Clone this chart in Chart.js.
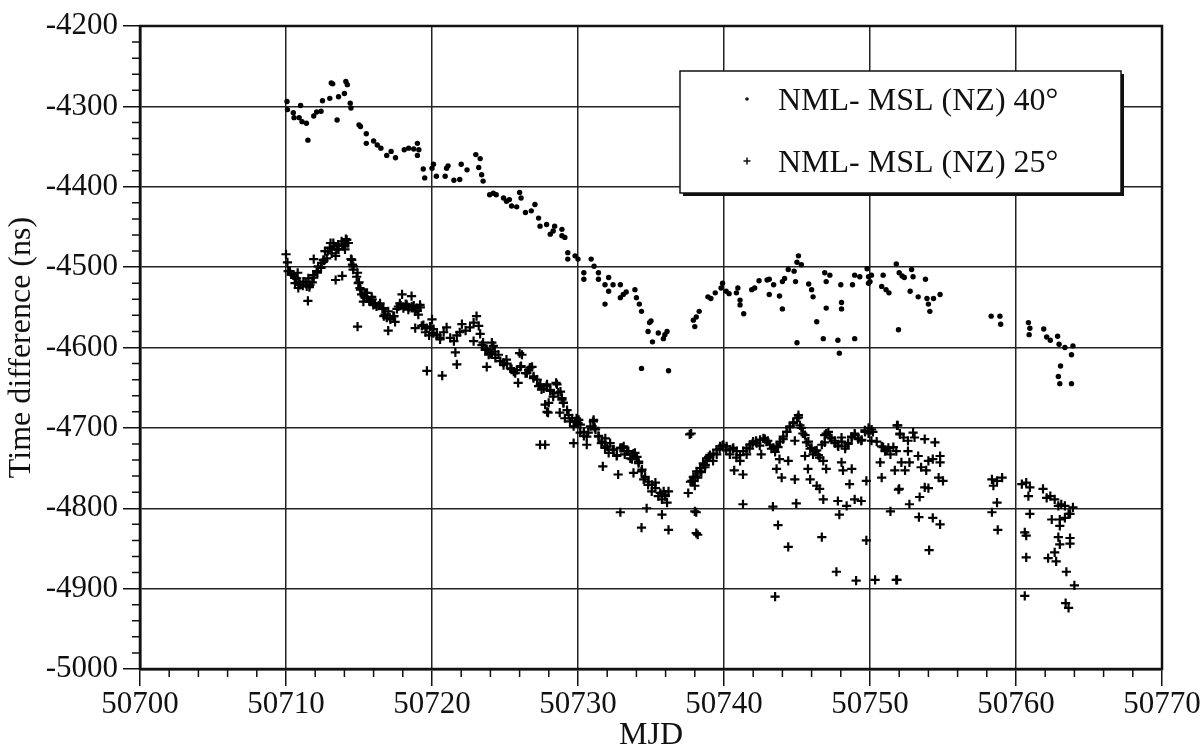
<!DOCTYPE html>
<html>
<head>
<meta charset="utf-8">
<script src="https://cdn.jsdelivr.net/npm/chart.js@4.4.1/dist/chart.umd.min.js"></script>
<style>
  html, body { margin: 0; padding: 0; background: #fff; }
</style>
</head>
<body>
<canvas id="chart" width="1204" height="752"></canvas>
<script>
// axis ranges
const xRange = [50700, 50770];
const yRange = [-5000, -4200];
const seriesLabels = ['NML- MSL (NZ) 40°', 'NML- MSL (NZ) 25°'];

// NML - MSL (NZ), 40 degree elevation mask (dots)
const mjd40 = [50710.07,50710.1,50710.5,50710.55,50711.0,50710.9,50711.1,50711.4,50711.5,50711.9,50712.1,50712.4,50712.5,50713.0,50713.1,50713.2,50713.5,50713.6,50714.0,50714.1,50714.2,50714.4,50714.45,50715.0,50715.1,50715.5,50715.5,50716.0,50716.25,50716.5,50716.9,50717.2,50717.5,50718.1,50718.4,50718.75,50719.0,50719.1,50719.0,50719.4,50719.5,50720.0,50720.1,50720.3,50720.9,50721.0,50721.1,50721.5,50721.9,50722.0,50722.4,50723.0,50723.3,50723.2,50723.4,50723.5,50723.95,50724.2,50724.4,50724.9,50725.1,50725.3,50725.45,50725.8,50726.0,50726.1,50726.4,50726.8,50727.05,50727.3,50727.4,50727.85,50728.1,50728.3,50728.4,50728.9,50728.9,50729.1,50729.3,50729.3,50729.8,50730.0,50730.4,50730.4,50730.9,50731.1,50731.4,50731.4,50731.85,50732.1,50732.4,50731.85,50732.1,50732.9,50732.9,50733.1,50733.3,50733.9,50734.0,50734.2,50734.35,50734.35,50734.9,50735.0,50734.8,50735.1,50735.5,50735.95,50736.1,50735.85,50736.2,50737.9,50738.0,50738.1,50738.3,50738.9,50739.1,50739.4,50739.8,50739.9,50740.15,50740.35,50740.85,50740.95,50741.1,50741.1,50741.35,50741.9,50742.1,50742.4,50742.95,50743.1,50743.1,50743.4,50743.8,50744.0,50744.15,50744.0,50744.4,50744.8,50744.9,50745.0,50745.1,50745.3,50745.0,50745.8,50746.0,50746.1,50746.35,50746.8,50746.9,50747.0,50747.25,50747.0,50747.8,50747.9,50748.0,50748.05,50748.05,50748.8,50748.95,50749.3,50748.95,50749.8,50749.9,50750.0,50749.9,50750.1,50750.8,50750.9,50751.1,50751.3,50751.8,50752.0,50752.2,50751.95,50752.35,50752.85,50752.95,50753.8,50752.75,50753.3,50753.9,50754.0,50754.1,50754.35,50754.8,50758.3,50758.9,50758.95,50760.85,50760.95,50760.9,50761.9,50762.1,50762.35,50762.85,50762.95,50763.35,50763.9,50763.8,50763.05,50762.9,50763.0,50763.8];
const diff40 = [-4294,-4304,-4308,-4314,-4299,-4314,-4319,-4321,-4342,-4312,-4307,-4306,-4293,-4290,-4271,-4272,-4317,-4288,-4284,-4269,-4273,-4296,-4302,-4323,-4325,-4334,-4346,-4343,-4348,-4352,-4361,-4356,-4364,-4354,-4352,-4353,-4346,-4354,-4361,-4378,-4389,-4377,-4372,-4387,-4387,-4377,-4374,-4392,-4391,-4372,-4379,-4360,-4365,-4376,-4385,-4393,-4410,-4408,-4410,-4414,-4418,-4416,-4424,-4425,-4407,-4414,-4432,-4430,-4422,-4439,-4449,-4447,-4459,-4455,-4449,-4453,-4461,-4463,-4482,-4490,-4486,-4490,-4507,-4515,-4490,-4499,-4507,-4515,-4522,-4513,-4522,-4546,-4530,-4522,-4538,-4534,-4531,-4528,-4538,-4546,-4555,-4626,-4569,-4567,-4580,-4593,-4582,-4584,-4580,-4589,-4629,-4566,-4574,-4562,-4555,-4537,-4539,-4532,-4526,-4520,-4530,-4533,-4532,-4526,-4541,-4547,-4558,-4528,-4526,-4517,-4516,-4515,-4534,-4522,-4536,-4518,-4514,-4552,-4503,-4505,-4518,-4494,-4486,-4497,-4594,-4521,-4528,-4537,-4568,-4589,-4507,-4518,-4510,-4551,-4591,-4607,-4522,-4544,-4552,-4522,-4510,-4512,-4589,-4502,-4512,-4518,-4520,-4510,-4524,-4510,-4528,-4532,-4496,-4507,-4511,-4578,-4513,-4503,-4512,-4515,-4530,-4537,-4539,-4546,-4555,-4539,-4534,-4561,-4561,-4571,-4569,-4576,-4584,-4577,-4587,-4591,-4586,-4596,-4600,-4598,-4609,-4623,-4636,-4645,-4645];

// NML - MSL (NZ), 25 degree elevation mask (crosses)
const mjd25 = [50710.0,50710.1,50710.15,50710.35,50710.6,50710.8,50710.9,50711.15,50711.35,50711.6,50711.8,50711.9,50712.15,50711.9,50712.4,50712.6,50712.85,50713.05,50713.3,50713.4,50713.6,50713.85,50714.1,50714.2,50711.5,50713.4,50713.85,50714.45,50714.55,50714.6,50714.9,50715.0,50715.1,50715.35,50715.55,50715.7,50715.9,50716.1,50716.35,50716.6,50716.7,50716.9,50717.15,50717.4,50717.6,50717.85,50717.95,50718.2,50718.4,50718.6,50718.75,50719.0,50719.2,50714.9,50717.0,50718.85,50719.3,50719.55,50719.8,50720.0,50720.1,50720.35,50720.55,50720.8,50721.0,50721.25,50721.5,50721.7,50721.9,50722.05,50722.3,50722.6,50722.85,50723.05,50723.2,50723.3,50723.5,50723.75,50724.0,50724.2,50721.6,50721.7,50722.85,50719.65,50720.7,50723.75,
  50710.27,50710.5,50710.73,50710.62,50710.96,50710.84,50711.19,50711.42,50711.64,50711.53,50711.87,50712.1,50712.2,50712.44,50712.56,50712.79,50712.67,50713.0,50713.24,50713.13,50713.47,50713.58,50713.81,50713.93,50714.16,50714.27,50714.04,50714.5,50714.61,50714.84,50714.95,50715.07,50715.18,50715.41,50715.3,50715.53,50715.75,50715.87,50715.98,50716.2,50716.44,50716.67,50716.78,50717.0,50717.12,50717.35,50717.47,50717.7,50717.8,50718.04,50718.27,50718.38,50718.61,50718.84,50718.95,50719.06,50719.18,50719.41,50719.63,50719.86,50720.09,50720.32,50720.55,
  50724.1,50724.3,50724.55,50724.9,50725.1,50725.45,50725.7,50726.0,50726.1,50726.5,50726.7,50726.95,50725.9,50727.3,50727.5,50727.85,50728.1,50728.3,50728.5,50728.65,50728.9,50729.0,50727.75,50727.95,50728.75,50729.1,50729.45,50729.7,50729.9,50730.0,50730.15,50730.4,50730.6,50730.7,50731.05,50731.15,50731.4,50731.6,50731.85,50731.7,50732.1,50732.4,50732.65,50733.0,50733.2,50733.45,50733.7,50733.9,50734.15,50732.75,50733.8,50734.35,50734.5,50734.8,50735.05,50735.3,50735.5,50735.75,50735.95,50736.2,50736.1,50727.4,50727.75,50729.7,50732.9,50734.7,50735.75,50734.35,50736.2,50737.65,50737.8,50737.55,50738.0,50738.1,
  50723.42,50723.65,50723.88,50724.1,50724.34,50724.68,50724.9,50725.14,50725.37,50725.6,50725.82,50726.05,50726.16,50726.4,50726.62,50726.85,50726.96,50727.2,50727.42,50727.65,50727.88,50728.1,50728.33,50728.56,50728.8,50728.9,50729.0,50729.25,50729.36,50729.6,50729.8,50730.05,50730.16,50730.4,50730.6,50730.85,50731.07,50731.2,50731.42,50731.65,50731.87,50732.0,50732.2,50732.45,50732.67,50732.9,50733.13,50733.35,50733.58,50733.8,50734.04,50734.15,50734.38,50734.6,50734.84,50735.07,50735.3,50735.64,50735.87,50735.98,50727.88,50727.99,50737.7,50738.04,50738.38,50738.72,50738.95,
  50737.75,50737.9,50738.0,50738.2,50738.45,50738.7,50738.8,50739.0,50739.25,50739.5,50739.7,50739.9,50740.15,50740.4,50740.6,50740.85,50741.1,50740.7,50741.3,50741.55,50741.75,50741.95,50742.2,50742.45,50742.55,50742.8,50743.0,50743.25,50743.5,50743.7,50743.8,50743.6,50743.95,50744.05,50744.3,50744.5,50744.75,50745.1,50745.2,50744.85,50744.4,50744.85,50745.4,50745.65,50745.9,50746.1,50746.35,50746.55,50745.55,50745.75,50745.9,50746.35,50746.55,50746.8,50746.8,50747.0,50746.9,50747.0,50747.25,50747.6,50747.8,50748.05,50748.3,50748.5,50748.75,50748.95,50749.2,50749.4,50749.65,50749.9,50750.1,50750.2,50748.05,50748.15,50748.75,50748.6,50747.8,50748.4,50748.95,50749.4,50749.75,50747.9,50738.1,50738.2,50741.3,50743.35,50743.7,50744.4,50744.95,50746.7,50747.7,50749.05,50749.75,50750.35,50751.85,50743.5,50750.7,50750.8,50750.9,50751.15,50751.4,50751.6,50751.85,50752.05,50751.7,50752.0,50751.4,
  50737.9,50738.13,50738.36,50738.58,50738.81,50739.04,50739.27,50739.5,50739.73,50739.95,50740.18,50740.41,50740.64,50740.87,50741.1,50741.32,50741.55,50741.78,50742.0,50742.24,50742.47,50742.7,50742.92,50743.15,50743.38,50743.6,50743.84,50744.06,50744.3,50744.52,50744.75,50745.0,50745.1,50745.3,50745.55,50745.78,50746.0,50746.23,50746.46,50746.7,50746.9,50747.15,50747.37,50747.6,50747.83,50748.06,50748.3,50748.5,50748.74,50748.97,50749.2,50749.43,50749.66,50749.9,50750.11,50750.46,50750.8,50751.03,50751.26,
  50751.9,50752.05,50752.3,50752.6,50752.95,50753.05,50753.75,50754.45,50751.8,50752.15,50752.7,50752.4,50752.6,50753.3,50753.5,50753.85,50754.0,50754.3,50754.8,50754.8,50754.7,50755.0,50751.95,50752.7,50753.4,50753.75,50754.0,50753.35,50754.3,50754.8,50754.05,50751.8,50758.35,50758.45,50758.7,50759.05,50758.7,50758.35,50758.75,50760.4,50760.7,50760.95,50760.85,50760.95,50760.6,50760.7,50760.7,50760.6,50761.85,50762.1,50762.35,50762.65,50762.9,50763.1,50763.35,50763.7,50763.9,50762.45,50763.0,50763.35,50763.6,50763.0,50762.9,50763.7,50763.7,50763.0,50762.65,50762.2,50762.75,50763.45,50764.0,50763.4,50763.6];
const diff25 = [-4484,-4494,-4505,-4509,-4513,-4507,-4519,-4523,-4519,-4525,-4519,-4513,-4507,-4490,-4501,-4492,-4480,-4470,-4474,-4486,-4478,-4472,-4465,-4470,-4542,-4516,-4511,-4490,-4497,-4503,-4507,-4519,-4528,-4536,-4532,-4542,-4540,-4546,-4548,-4552,-4561,-4563,-4565,-4561,-4552,-4548,-4534,-4546,-4550,-4536,-4548,-4554,-4550,-4574,-4579,-4576,-4573,-4581,-4585,-4565,-4577,-4585,-4590,-4581,-4575,-4588,-4592,-4585,-4581,-4571,-4579,-4575,-4569,-4561,-4573,-4583,-4594,-4602,-4608,-4598,-4606,-4621,-4592,-4629,-4635,-4624,
  -4505,-4510,-4514,-4520,-4522,-4526,-4518,-4524,-4522,-4514,-4510,-4505,-4499,-4495,-4491,-4489,-4480,-4476,-4470,-4483,-4478,-4472,-4468,-4474,-4466,-4470,-4478,-4491,-4499,-4512,-4520,-4526,-4534,-4532,-4543,-4539,-4543,-4537,-4547,-4549,-4545,-4551,-4559,-4555,-4563,-4561,-4568,-4549,-4545,-4551,-4547,-4553,-4549,-4555,-4551,-4559,-4547,-4572,-4576,-4574,-4582,-4584,-4588,
  -4594,-4605,-4609,-4619,-4615,-4627,-4632,-4607,-4623,-4632,-4625,-4638,-4644,-4648,-4652,-4648,-4654,-4661,-4644,-4656,-4665,-4669,-4671,-4681,-4681,-4688,-4692,-4698,-4688,-4694,-4706,-4710,-4721,-4706,-4692,-4700,-4710,-4719,-4725,-4748,-4731,-4727,-4735,-4725,-4733,-4729,-4739,-4731,-4744,-4758,-4756,-4754,-4764,-4771,-4779,-4768,-4785,-4789,-4783,-4779,-4793,-4721,-4721,-4719,-4805,-4800,-4808,-4824,-4827,-4708,-4766,-4781,-4804,-4831,
  -4597,-4603,-4609,-4607,-4613,-4617,-4622,-4620,-4626,-4630,-4628,-4624,-4609,-4632,-4628,-4624,-4636,-4640,-4646,-4651,-4646,-4653,-4657,-4646,-4655,-4663,-4669,-4678,-4684,-4688,-4692,-4690,-4696,-4705,-4711,-4698,-4690,-4702,-4711,-4717,-4713,-4723,-4719,-4727,-4734,-4725,-4723,-4729,-4738,-4732,-4736,-4742,-4752,-4761,-4767,-4771,-4775,-4781,-4779,-4785,-4680,-4669,-4767,-4761,-4754,-4746,-4736,
  -4707,-4766,-4772,-4762,-4755,-4749,-4741,-4737,-4741,-4733,-4726,-4722,-4728,-4733,-4726,-4737,-4741,-4753,-4758,-4733,-4726,-4720,-4716,-4722,-4733,-4714,-4716,-4726,-4730,-4724,-4739,-4751,-4762,-4714,-4705,-4699,-4693,-4687,-4697,-4716,-4741,-4764,-4707,-4718,-4726,-4733,-4728,-4737,-4735,-4751,-4764,-4772,-4776,-4789,-4741,-4751,-4718,-4707,-4712,-4716,-4722,-4712,-4726,-4720,-4712,-4707,-4714,-4716,-4703,-4707,-4716,-4705,-4743,-4753,-4751,-4770,-4791,-4797,-4789,-4791,-4766,-4808,-4805,-4833,-4795,-4798,-4821,-4848,-4794,-4836,-4879,-4890,-4840,-4889,-4889,-4910,-4743,-4762,-4724,-4728,-4733,-4724,-4697,-4707,-4753,-4776,-4804,
  -4761,-4754,-4750,-4744,-4738,-4734,-4732,-4727,-4723,-4721,-4723,-4727,-4725,-4729,-4734,-4729,-4725,-4721,-4717,-4719,-4715,-4713,-4717,-4721,-4725,-4723,-4717,-4711,-4705,-4698,-4694,-4688,-4684,-4700,-4709,-4717,-4725,-4729,-4734,-4721,-4709,-4705,-4713,-4719,-4723,-4717,-4723,-4719,-4711,-4709,-4713,-4715,-4705,-4700,-4702,-4717,-4723,-4729,-4725,
  -4697,-4708,-4712,-4716,-4706,-4712,-4714,-4718,-4729,-4743,-4743,-4753,-4729,-4735,-4749,-4753,-4741,-4739,-4735,-4743,-4762,-4766,-4777,-4795,-4786,-4774,-4775,-4811,-4812,-4820,-4852,-4889,-4764,-4772,-4766,-4762,-4793,-4805,-4827,-4770,-4768,-4774,-4785,-4807,-4830,-4834,-4861,-4909,-4776,-4787,-4785,-4789,-4797,-4795,-4797,-4807,-4799,-4814,-4814,-4812,-4807,-4822,-4836,-4837,-4844,-4845,-4855,-4862,-4866,-4879,-4896,-4918,-4924];

const toPoints = (xs, ys) => xs.map((v, i) => ({ x: v, y: ys[i] }));
const serif = '"Liberation Serif", "Times New Roman", serif';

// minor ticks, frame and boxed legend
const extras = {
  id: 'extras',
  afterDraw(chart) {
    const { ctx, chartArea: a, scales: { x, y } } = chart;
    ctx.save();
    ctx.strokeStyle = '#111';
    ctx.lineWidth = 1.5;
    ctx.beginPath();
    for (let v = xRange[0]; v <= xRange[1]; v += 2) {
      if (v % 10 === 0) continue;
      const px = x.getPixelForValue(v);
      ctx.moveTo(px, a.bottom); ctx.lineTo(px, a.bottom + 8);
    }
    for (let v = yRange[0]; v <= yRange[1]; v += 20) {
      if (v % 100 === 0) continue;
      const py = y.getPixelForValue(v);
      ctx.moveTo(a.left - 8, py); ctx.lineTo(a.left, py);
    }
    ctx.stroke();
    ctx.lineWidth = 2.5;
    ctx.strokeRect(a.left, a.top, a.right - a.left, a.bottom - a.top);

    // legend box with drop shadow
    const bx = a.left + 540, by = a.top + 45, bw = 441, bh = 122;
    ctx.fillStyle = '#111';
    ctx.fillRect(bx + 3, by + 3, bw, bh);
    ctx.fillStyle = '#fff';
    ctx.fillRect(bx, by, bw, bh);
    ctx.lineWidth = 1.5;
    ctx.strokeRect(bx, by, bw, bh);

    ctx.fillStyle = '#111';
    ctx.font = '32px ' + serif;
    ctx.textBaseline = 'alphabetic';
    ctx.textAlign = 'left';
    ctx.beginPath();
    ctx.arc(bx + 67, by + 28, 1.8, 0, Math.PI * 2);
    ctx.fill();
    ctx.fillText(seriesLabels[0], bx + 98, by + 39);
    ctx.beginPath();
    ctx.lineWidth = 1.5;
    ctx.moveTo(bx + 63.5, by + 90); ctx.lineTo(bx + 70.5, by + 90);
    ctx.moveTo(bx + 67, by + 86.5); ctx.lineTo(bx + 67, by + 93.5);
    ctx.stroke();
    ctx.fillText(seriesLabels[1], bx + 98, by + 101);
    ctx.restore();
  }
};

new Chart(document.getElementById('chart'), {
  type: 'scatter',
  data: {
    datasets: [
      { label: seriesLabels[0], data: toPoints(mjd40, diff40), pointStyle: 'circle', pointRadius: 2.7,
        pointBorderWidth: 0, backgroundColor: '#000', borderColor: '#000' },
      { label: seriesLabels[1], data: toPoints(mjd25, diff25), pointStyle: 'cross', pointRadius: 4.6,
        pointBorderWidth: 2.2, backgroundColor: '#000', borderColor: '#000' }
    ]
  },
  options: {
    responsive: false, animation: false, devicePixelRatio: 1,
    layout: { padding: { top: 26, right: 42, left: 0, bottom: 0 } },
    plugins: { legend: { display: false }, tooltip: { enabled: false } },
    scales: {
      x: {
        type: 'linear', min: xRange[0], max: xRange[1],
        afterFit: s => { s.height = 83; },
        ticks: { stepSize: 10, padding: 0, color: '#111', font: { family: serif, size: 31 }, callback: v => String(v) },
        grid: { color: '#222', lineWidth: 1.5, tickLength: 17, tickColor: '#111' },
        border: { display: true, color: '#111', width: 2.5 },
        title: { display: true, text: 'MJD', color: '#111', padding: 0, font: { family: serif, size: 32, lineHeight: 1 } }
      },
      y: {
        type: 'linear', min: yRange[0], max: yRange[1],
        afterFit: s => { s.width = 140; },
        ticks: { stepSize: 100, padding: 5, color: '#111', font: { family: serif, size: 31 }, callback: v => String(v) },
        grid: { color: '#222', lineWidth: 1.5, tickLength: 17, tickColor: '#111' },
        border: { display: true, color: '#111', width: 2.5 },
        title: { display: true, text: 'Time difference (ns)', color: '#111', padding: { top: 6 }, font: { family: serif, size: 32, lineHeight: 1 } }
      }
    }
  },
  plugins: [extras]
});
</script>
</body>
</html>
